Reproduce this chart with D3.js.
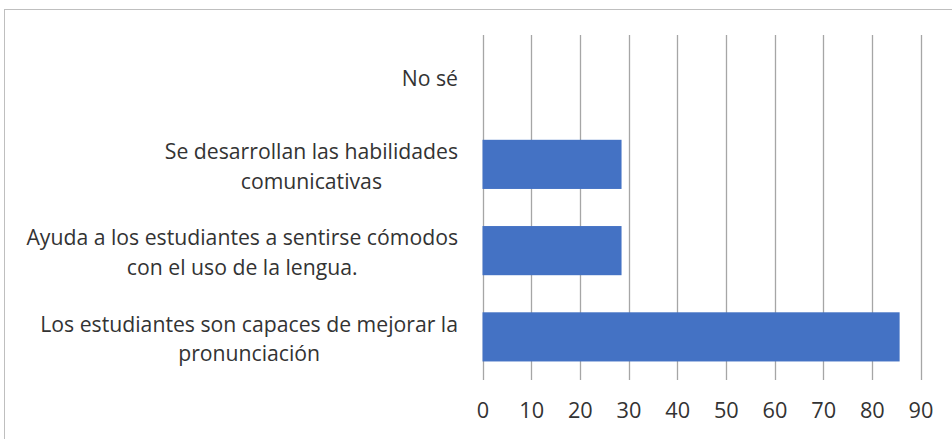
<!DOCTYPE html>
<html><head><meta charset="utf-8">
<script src="https://cdn.jsdelivr.net/npm/d3@7"></script>
<style>body{margin:0;background:#fff;} svg{display:block;}</style>
</head><body>
<script>
const categories = [
  ["Los estudiantes son capaces de mejorar la", "pronunciación"],
  ["Ayuda a los estudiantes a sentirse cómodos", "con el uso de la lengua."],
  ["Se desarrollan las habilidades", "comunicativas"],
  ["No sé"]
];
const values = [85.71, 28.57, 28.57, 0];
const ticks = [0,10,20,30,40,50,60,70,80,90];

const W = 952, H = 439;
const svg = d3.select("body").append("svg").attr("width", W).attr("height", H);
svg.append("rect").attr("x",4.5).attr("y",9.5).attr("width",W+10).attr("height",H+10)
  .attr("fill","#fff").attr("stroke","#bfbfbf").attr("stroke-width",1);

const x = d3.scaleLinear().domain([0,90]).range([482.5, 920.5]);
const y = d3.scaleBand().domain(d3.range(categories.length)).range([380, 35]).paddingInner(0.43).paddingOuter(0.215);

const font = "'Open Sans', sans-serif";
const probe = svg.append("text").attr("font-family",font).attr("font-size",20).text(categories[0][0]);
const fs = 20 * 418 / probe.node().getComputedTextLength();
probe.remove();
const txt = "#333333";

const g = svg.append("g");
g.selectAll("line.grid").data(ticks).join("line").attr("class","grid")
  .attr("x1",d=>Math.round(x(d))+0.5).attr("x2",d=>Math.round(x(d))+0.5)
  .attr("y1",35).attr("y2",380).attr("stroke","#a6a6a6").attr("stroke-width",1.3);

g.selectAll("rect.bar").data(values).join("rect").attr("class","bar")
  .attr("x",x(0)).attr("y",(d,i)=>y(i)).attr("width",d=>x(d)-x(0)).attr("height",y.bandwidth())
  .attr("fill","#4472C4");

const ax = svg.append("g").attr("transform","translate(0,380)")
  .call(d3.axisBottom(x).tickValues(ticks).tickSize(0).tickPadding(23));
ax.select(".domain").remove();
ax.selectAll("text").attr("font-family",font).attr("font-size",fs+0.5).attr("fill",txt);

const lab = svg.append("g");
const rightX = 458;
categories.forEach((lines,i)=>{
  const cy = y(i)+y.bandwidth()/2 + (lines.length > 1 ? 2 : 0);
  const lh = 29.5;
  const t = lab.append("text").attr("text-anchor","middle").attr("font-family",font)
    .attr("font-size",fs).attr("fill",txt);
  const spans = lines.map((s,j)=> t.append("tspan").attr("y",cy + (j-(lines.length-1)/2)*lh).attr("dy","0.35em").text(s));
  const maxW = d3.max(spans, sp => sp.node().getComputedTextLength());
  spans.forEach(sp => sp.attr("x", rightX - maxW/2));
});
</script>
</body></html>
